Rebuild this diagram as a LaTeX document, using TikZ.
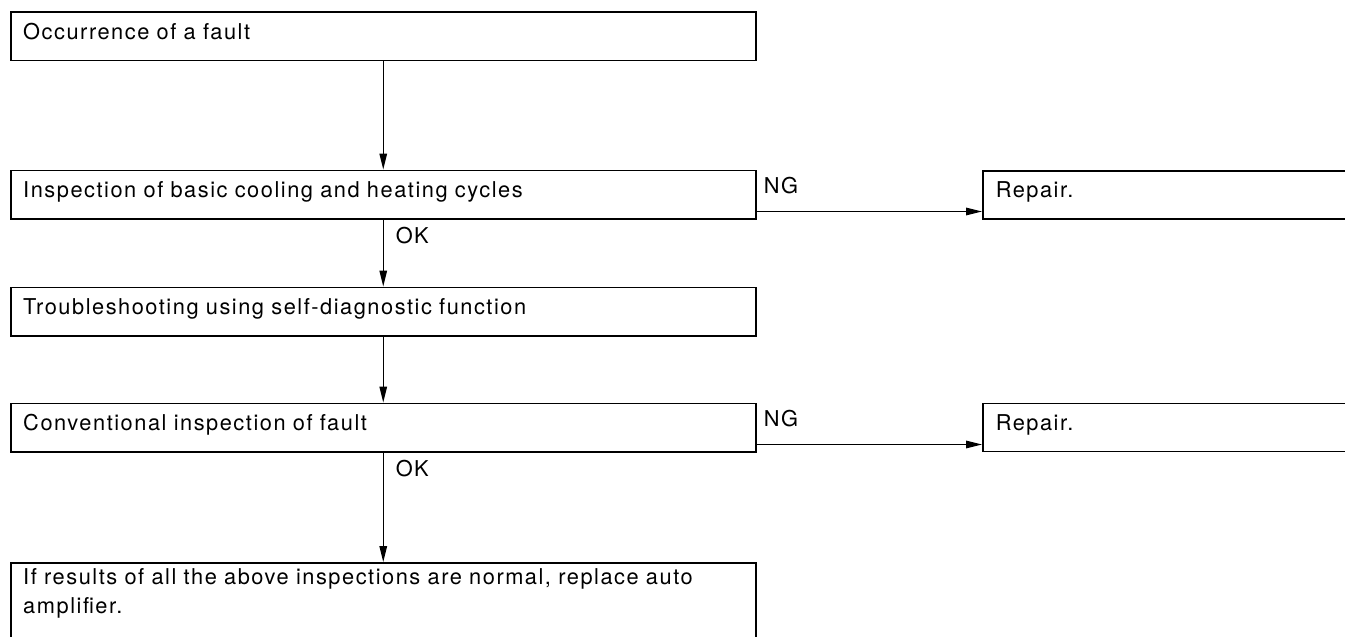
\documentclass[tikz,border=0pt]{standalone}
\usepackage{fontspec}
\setmainfont{TeX Gyre Heros}[LetterSpace=7]
\usetikzlibrary{arrows.meta}
\begin{document}
\begin{tikzpicture}[x=1pt,y=-1pt,
  line width=1.5pt,
  font=\fontsize{21.8}{29}\selectfont,
  mainbox/.style={draw, anchor=north west, minimum width=745pt, minimum height=48.5pt,
    text width=720pt, align=left, inner xsep=12.5pt, inner ysep=0pt,
    text height=15pt, text depth=9pt},
  sidebox/.style={draw, anchor=north west, minimum width=420pt, minimum height=48pt,
    text width=394pt, align=left, inner xsep=13pt, inner ysep=0pt,
    text height=15pt, text depth=9pt},
  lastbox/.style={draw, anchor=north west, minimum width=745pt,
    text width=720pt, align=left, inner xsep=12.5pt, inner ysep=6pt,
    text depth=60pt},
  lbl/.style={anchor=base west, inner sep=0pt},
  arr/.style={-{Triangle[length=16pt,width=7.5pt]}}]
\useasboundingbox (0,0) rectangle (1345,637);
\clip (0,0) rectangle (1345,637);
\node[mainbox] (b1) at (10,11) {Occurrence of a fault};
\node[mainbox] (b2) at (10,169.5) {Inspection of basic cooling and heating cycles};
\node[mainbox] (b3) at (10,286.5) {Troubleshooting using self-diagnostic function};
\node[mainbox] (b4) at (10,402.5) {Conventional inspection of fault};
\node[lastbox] (b5) at (10,562) {If results of all the above inspections are normal, replace auto\\amplifier.};
\node[sidebox] (r1) at (982,170) {Repair.};
\node[sidebox] (r2) at (982,402.5) {Repair.};
\node[lbl] (ng1) at (763,193) {NG};
\node[lbl] (ng2) at (763,426) {NG};
\node[lbl] (ok1) at (395,243) {OK};
\node[lbl] (ok2) at (395,476) {OK};
\draw[arr] (b1.south) -- (b2.north);
\draw[arr] (b2.south) -- (b3.north);
\draw[arr] (b3.south) -- (b4.north);
\draw[arr] (b4.south) -- (b5.north);
\draw[arr] ([yshift=8pt]b2.south east) -- ([yshift=8pt]b2.south east -| r1.west);
\draw[arr] ([yshift=8pt]b4.south east) -- ([yshift=8pt]b4.south east -| r2.west);
\end{tikzpicture}
\end{document}
